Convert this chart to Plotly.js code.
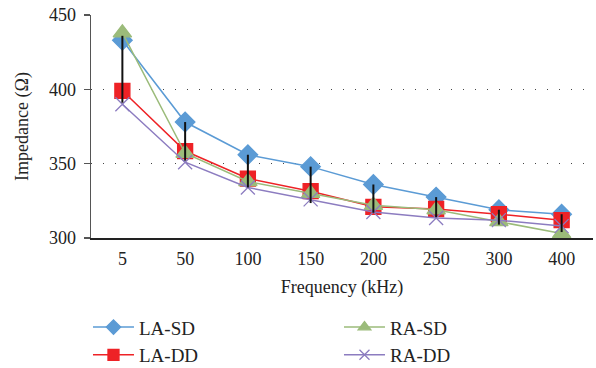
<!DOCTYPE html>
<html><head><meta charset="utf-8">
<script src="https://cdn.plot.ly/plotly-3.0.1.min.js"></script>
<style>body{margin:0;background:#fff}#c{width:596px;height:368px}</style>
</head><body><div id="c"></div>
<script>
const categories = ['5','50','100','150','200','250','300','400'];
const seriesNames = ['LA-SD','LA-DD','RA-SD','RA-DD'];
const laSD = [433, 378, 356, 348, 336, 327.5, 319, 316];
const laDD = [399, 358.5, 340, 331.5, 321, 319.5, 316, 312];
const raSD = [438, 357, 338, 330, 322, 319, 311, 303];
const raDD = [390, 351, 334, 326, 317.5, 313.5, 312, 308];
const errPlus = [3, 0, 0, 0, 0, 0, 0, 0];
const errMinus = [42, 26, 22, 24.5, 19, 13.5, 10, 12];
const yTicks = [300, 350, 400, 450];

const fam = 'Liberation Serif, Times New Roman, serif';
const styles = [
  {color:'#5B9BD5', symbol:'diamond', size:15, lsize:11, legend:'legend'},
  {color:'#EE2226', symbol:'square', size:15, lsize:11, legend:'legend'},
  {color:'#9BBB7A', symbol:'triangle-up', size:16, lsize:11, legend:'legend2'},
  {color:'#8C7CC0', symbol:'x-thin-open', size:14, lsize:10, legend:'legend2'}
];
const data = [laSD, laDD, raSD, raDD];
const traces = [];
data.forEach((ys, i) => {
  const s = styles[i];
  traces.push({name:seriesNames[i], x:categories, y:ys, mode:'lines+markers', showlegend:false,
    line:{color:s.color, width:1.5},
    marker:{symbol:s.symbol, size:s.size, color:s.color, line:{width:1.3, color:s.color}}});
});
// legend-only entries (no data points) with smaller symbols as in the reference legend
data.forEach((ys, i) => {
  const s = styles[i];
  traces.push({name:seriesNames[i], legend:s.legend, x:[null], y:[null], mode:'lines+markers',
    line:{color:s.color, width:1.5},
    marker:{symbol:s.symbol, size:s.lsize, color:s.color, line:{width:1.3, color:s.color}}});
});
traces.push({name:'err', x:categories, y:laSD, mode:'markers', showlegend:false, hoverinfo:'skip',
   marker:{opacity:0, size:1},
   error_y:{type:'data', symmetric:false, array:errPlus, arrayminus:errMinus, color:'#111', thickness:2, width:0}});

const legBase = {orientation:'v', yanchor:'top', xanchor:'left', font:{family:fam, size:19, color:'#222'},
  bgcolor:'rgba(0,0,0,0)', tracegroupgap:0, itemwidth:41};
const layout = {
  width:596, height:368,
  margin:{l:91, r:3, t:15, b:130, autoexpand:false},
  paper_bgcolor:'#fff', plot_bgcolor:'#fff',
  font:{family:fam, color:'#222', size:18},
  showlegend:true,
  xaxis:{type:'category', range:[-0.5,7.5], showline:true, linecolor:'#222', linewidth:1.5,
    ticks:'', showgrid:false, tickfont:{size:18}, ticklabelstandoff:4,
    title:{text:'Frequency (kHz)', font:{size:18}, standoff:12}},
  yaxis:{range:[300,450], tickvals:yTicks, showline:true, linecolor:'#555', linewidth:1.5,
    ticks:'outside', ticklen:6, tickcolor:'#555', tickwidth:1.5, ticklabelstandoff:4,
    showgrid:true, gridcolor:'#444', gridwidth:1, griddash:'1px,11px', zeroline:false,
    tickfont:{size:18},
    title:{text:'Impedance (Ω)', font:{size:18}, standoff:15}},
  legend: Object.assign({}, legBase, {x:-0.006, y:-0.315}),
  legend2: Object.assign({}, legBase, {x:0.494, y:-0.315})
};
Plotly.newPlot('c', traces, layout, {staticPlot:true, displayModeBar:false});
</script></body></html>
